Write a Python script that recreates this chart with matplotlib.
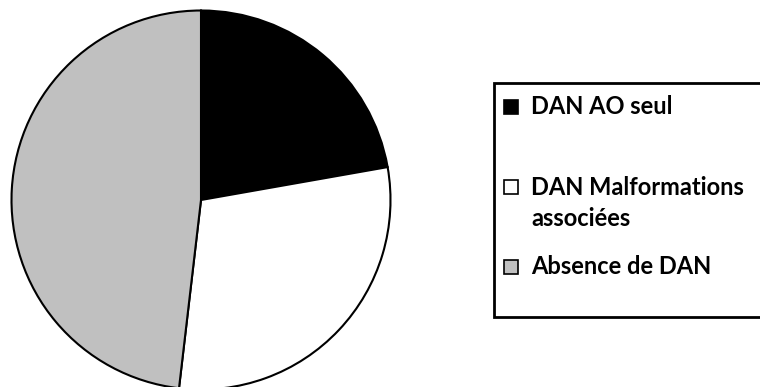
import matplotlib
matplotlib.use('Agg')
import matplotlib.pyplot as plt
from matplotlib.patches import Rectangle

labels = ['DAN AO seul', 'DAN Malformations\nassociées', 'Absence de DAN']
counts = [6, 8, 13]
colors = ['#000000', '#FFFFFF', '#C0C0C0']

fig = plt.figure(figsize=(7.6, 3.87), dpi=100)
W, H = 760.0, 387.0

# pie axes, sized in pixels
cx, cy, r = 201.0, 200.0, 189.5
ax = fig.add_axes([(cx - r) / W, (H - cy - r) / H, 2 * r / W, 2 * r / H])
ax.pie(counts, colors=colors, startangle=90, counterclock=False, radius=1,
       wedgeprops=dict(edgecolor='black', linewidth=1.5))
ax.set_xlim(-1, 1)
ax.set_ylim(-1, 1)
ax.set_aspect('equal')
ax.axis('off')

# legend box (runs off the right edge)
box = Rectangle((494 / W, (H - 317) / H), 300 / W, (317 - 83) / H,
                transform=fig.transFigure, facecolor='white', edgecolor='black',
                linewidth=2, clip_on=False)
fig.add_artist(box)

row_y = [107, 203, 267]
for lab, col, yy in zip(labels, colors, row_y):
    sq_y = yy if '\n' not in lab else 187
    fig.add_artist(Rectangle((504 / W, (H - sq_y - 7) / H), 14 / W, 14 / H,
                             transform=fig.transFigure, facecolor=col,
                             edgecolor='black', linewidth=1.2))
    fig.text(531 / W, (H - yy) / H, lab, fontsize=17, fontweight='bold',
             family='Lato', va='center', ha='left', linespacing=1.42)

fig.savefig('out.png', dpi=100)
